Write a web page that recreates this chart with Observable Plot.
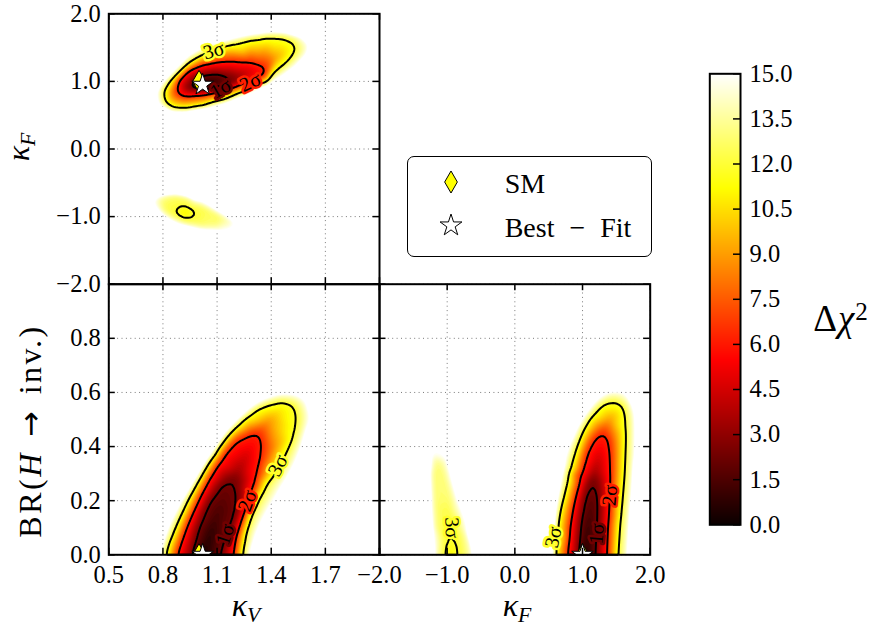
<!DOCTYPE html>
<html><head><meta charset="utf-8">
<script src="https://cdn.jsdelivr.net/npm/d3@7"></script>
<script src="https://cdn.jsdelivr.net/npm/@observablehq/plot@0.6"></script>
<style>
body{margin:0;background:#fff;}
#chart{position:relative;width:875px;height:627px;overflow:hidden;font-family:"Liberation Serif",serif;color:#000;}
#chart svg{position:absolute;left:0;top:0;}
.lbl{position:absolute;white-space:nowrap;line-height:1;}
.sb{font-size:0.68em;font-style:italic;position:relative;top:0.26em;}
.sp{font-size:0.68em;position:relative;top:-0.45em;}
</style></head><body><div id="chart"></div>
<script>
// ---------------- data ----------------
// Δχ² levels of the labelled contours (2 d.o.f.)
const sigmaLevels = [2.30, 6.18, 11.83];
const sigmaNames = ["1σ", "2σ", "3σ"];
const edgeLevel = 15;      // top of colour scale (fade-out edge)
const farLevel = 40;       // background samples

// axis ticks
const kvTicks = [0.5, 0.8, 1.1, 1.4, 1.7, 2.0];
const kvTickLabels = [0.5, 0.8, 1.1, 1.4, 1.7];
const kfTicks = [-2, -1, 0, 1, 2];
const brTicks = [0, 0.2, 0.4, 0.6, 0.8, 1.0];
const brTickLabels = [0, 0.2, 0.4, 0.6, 0.8];
const cbTicks = [0, 1.5, 3, 4.5, 6, 7.5, 9, 10.5, 12, 13.5, 15];

// markers
const smP1 = [[1, 1]], bestP1 = [[1.02, 0.95]];
const smP2 = [[1, 0]], bestP2 = [[1.02, 0]];
const smP3 = [[1, 0]], bestP3 = [[1.0, 0]];

// ---- panel 1 (κV, κF) main island: [x, y, Δχ²] inner samples + contour rings ----
const p1MainCore = [[1.02,0.95,0.0],[1.09,1.0,0.6],[1.27,1.12,4.0],[1.33,1.16,5.3],[1.43,1.35,9.0],[1.49,1.46,10.6],[1.25,1.42,9.5],[0.90,0.95,4.5]];
const p1MainS1 = [[0.948,0.89],[0.955,0.96],[0.97,1.02],[1.0,1.07],[1.05,1.10],[1.10,1.11],[1.16,1.08],[1.20,1.03],[1.19,0.97],[1.14,0.92],[1.07,0.88],[1.0,0.86]];
const p1MainS2 = [[0.874,0.87],[0.892,1.04],[0.933,1.153],[1.007,1.237],[1.099,1.286],[1.191,1.30],[1.284,1.286],[1.348,1.237],[1.376,1.15],[1.37,1.07],[1.31,1.01],[1.25,0.96],[1.17,0.89],[1.08,0.83],[1.0,0.79],[0.93,0.77],[0.89,0.80]];
const p1MainS3 = [[1.08,1.458],[1.182,1.547],[1.283,1.616],[1.394,1.656],[1.468,1.646],[1.523,1.582],[1.538,1.483],[1.514,1.36],[1.468,1.237],[1.40,1.10],[1.32,0.96],[1.228,0.84],[1.136,0.73],[1.025,0.64],[0.914,0.594],[0.859,0.605],[0.813,0.69],[0.804,0.842],[0.831,0.965],[0.877,1.089],[0.924,1.212],[0.970,1.311],[1.02,1.39]];
const p1MainEdge = [[0.99,1.47],[1.06,1.56],[1.18,1.635],[1.29,1.70],[1.40,1.74],[1.49,1.73],[1.57,1.67],[1.615,1.55],[1.60,1.40],[1.545,1.25],[1.47,1.10],[1.38,0.95],[1.28,0.82],[1.17,0.70],[1.04,0.595],[0.92,0.54],[0.835,0.55],[0.78,0.65],[0.765,0.84],[0.795,0.98],[0.845,1.12],[0.895,1.26],[0.935,1.38]];
// ---- panel 1 secondary island ----
const p1SmallCore = [[0.925, -0.94, 10.4]];
const p1SmallS3 = [[0.867,-0.926],[0.885,-0.872],[0.915,-0.852],[0.949,-0.877],[0.975,-0.93],[0.982,-0.975],[0.949,-1.03],[0.905,-1.02],[0.875,-0.985]];
const p1SmallMid = [[0.80,-0.76],[0.86,-0.71],[0.93,-0.74],[1.00,-0.82],[1.07,-0.92],[1.12,-1.02],[1.10,-1.10],[1.02,-1.12],[0.93,-1.08],[0.85,-1.00],[0.80,-0.90]];
const p1SmallMidLevel = 12.6;
const p1SmallEdge = [[0.75,-0.73],[0.80,-0.66],[0.87,-0.64],[0.94,-0.68],[1.00,-0.76],[1.07,-0.86],[1.14,-0.96],[1.21,-1.08],[1.19,-1.18],[1.12,-1.23],[1.01,-1.21],[0.90,-1.13],[0.82,-1.01],[0.77,-0.90],[0.74,-0.80]];
const p1Far = [[0.3,2.3],[1.25,2.3],[2.2,2.3],[2.2,1],[2.2,0],[2.2,-1],[2.2,-2.3],[1.25,-2.3],[0.3,-2.3],[0.3,-1],[0.3,0],[0.3,1],[1.2,0.1],[0.85,0.15],[1.6,0.3],[1.5,-0.5],[1.6,-1.5],[0.6,-1.6],[0.6,-0.35],[0.6,1.3],[1.7,1.9],[1.85,1.2],[0.9,1.9],[1.0,-1.6],[1.3,-0.6],[0.9,-0.4]];

// ---- panel 2 (κV, BR) ----
const p2Core = [[1.02,0.0,0.0],[1.06,0.07,0.5],[1.10,0.15,1.2],[1.14,0.22,1.8],[1.22,0.31,3.3],[1.26,0.36,4.3],[1.30,0.41,5.4],[1.38,0.49,8.5],[1.44,0.53,10.3],[1.42,0.40,8.6],[1.33,0.25,8.0]];
const p2S1 = [[0.961,0.0],[0.975,0.04],[0.989,0.078],[1.01,0.12],[1.035,0.164],[1.06,0.20],[1.091,0.226],[1.12,0.255],[1.146,0.269],[1.175,0.277],[1.193,0.275],[1.21,0.262],[1.215,0.235],[1.215,0.189],[1.195,0.13],[1.165,0.075],[1.14,0.035],[1.125,0.0]];
const p2S2 = [[0.878,0.0],[0.90,0.045],[0.924,0.09],[0.955,0.14],[0.989,0.189],[1.025,0.24],[1.063,0.288],[1.11,0.34],[1.156,0.386],[1.20,0.418],[1.248,0.436],[1.285,0.446],[1.313,0.448],[1.341,0.436],[1.35,0.40],[1.341,0.349],[1.32,0.29],[1.29,0.23],[1.262,0.17],[1.235,0.12],[1.212,0.07],[1.195,0.0]];
const p2S3 = [[0.819,0.0],[0.835,0.04],[0.859,0.078],[0.885,0.12],[0.915,0.164],[0.95,0.215],[0.989,0.263],[1.025,0.305],[1.063,0.349],[1.11,0.395],[1.156,0.436],[1.21,0.475],[1.267,0.51],[1.32,0.537],[1.378,0.553],[1.43,0.562],[1.47,0.565],[1.505,0.558],[1.526,0.547],[1.54,0.525],[1.544,0.498],[1.538,0.47],[1.526,0.442],[1.50,0.40],[1.465,0.35],[1.42,0.30],[1.369,0.257],[1.345,0.225],[1.322,0.195],[1.30,0.165],[1.285,0.14],[1.27,0.11],[1.257,0.078],[1.248,0.04],[1.239,0.0]];
const p2Edge = [[0.78,0.0],[0.795,0.04],[0.82,0.09],[0.855,0.14],[0.895,0.19],[0.95,0.25],[1.015,0.32],[1.085,0.39],[1.15,0.455],[1.22,0.505],[1.285,0.545],[1.35,0.573],[1.415,0.59],[1.47,0.598],[1.526,0.596],[1.57,0.584],[1.60,0.562],[1.615,0.52],[1.61,0.485],[1.59,0.44],[1.565,0.386],[1.53,0.33],[1.485,0.275],[1.435,0.22],[1.38,0.16],[1.34,0.11],[1.312,0.065],[1.295,0.03],[1.285,0.0]];
const p2Far = [[0.3,-0.25],[1.0,-0.25],[1.6,-0.25],[2.2,-0.25],[2.2,0.5],[2.2,1.2],[1.25,1.2],[0.3,1.2],[0.3,0.5],[0.6,0.0],[1.55,0.0],[1.7,0.25],[0.65,0.25],[0.9,0.6],[1.2,0.8],[1.8,0.75],[1.95,0.05]];

// ---- panel 3 (κF, BR) main island ----
const p3Core = [[1.03,0.0,0.0],[1.05,0.04,0.3],[1.07,0.08,0.6],[1.095,0.125,0.95],[1.12,0.17,1.3],[1.15,0.215,1.7],[1.19,0.31,3.3],[1.24,0.36,4.3],[1.29,0.41,5.4],[1.40,0.50,8.8],[1.50,0.52,10.0],[1.52,0.35,9.0],[1.49,0.15,9.0],[0.72,0.06,9.5],[0.86,0.30,8.6]];
const p3S1 = [[0.951,0.0],[0.956,0.03],[0.962,0.06],[0.968,0.088],[0.975,0.115],[0.986,0.138],[1.0,0.16],[1.012,0.18],[1.025,0.2],[1.042,0.218],[1.06,0.235],[1.08,0.25],[1.099,0.263],[1.117,0.27],[1.135,0.275],[1.155,0.277],[1.173,0.275],[1.19,0.271],[1.205,0.265],[1.215,0.256],[1.222,0.245],[1.228,0.23],[1.232,0.21],[1.236,0.19],[1.237,0.17],[1.234,0.14],[1.228,0.11],[1.221,0.085],[1.214,0.06],[1.207,0.03],[1.2,0.0]];
const p3S2 = [[0.778,0.0],[0.788,0.03],[0.80,0.06],[0.812,0.088],[0.827,0.115],[0.848,0.148],[0.87,0.18],[0.897,0.21],[0.926,0.238],[0.958,0.268],[0.99,0.30],[1.02,0.332],[1.049,0.362],[1.085,0.388],[1.12,0.41],[1.16,0.425],[1.197,0.436],[1.23,0.442],[1.26,0.446],[1.29,0.447],[1.32,0.446],[1.345,0.441],[1.368,0.434],[1.385,0.425],[1.40,0.412],[1.41,0.395],[1.416,0.374],[1.42,0.34],[1.42,0.30],[1.416,0.26],[1.41,0.22],[1.403,0.186],[1.394,0.152],[1.387,0.115],[1.38,0.08],[1.375,0.04],[1.37,0.0]];
const p3S3 = [[0.60,0.0],[0.61,0.035],[0.62,0.07],[0.635,0.105],[0.655,0.14],[0.68,0.17],[0.705,0.195],[0.729,0.214],[0.755,0.24],[0.78,0.265],[0.80,0.29],[0.827,0.312],[0.855,0.34],[0.89,0.37],[0.92,0.395],[0.951,0.417],[0.985,0.44],[1.02,0.46],[1.06,0.48],[1.099,0.498],[1.15,0.515],[1.20,0.53],[1.25,0.543],[1.296,0.553],[1.34,0.559],[1.38,0.563],[1.425,0.565],[1.468,0.565],[1.505,0.562],[1.54,0.558],[1.57,0.553],[1.592,0.547],[1.61,0.535],[1.625,0.52],[1.636,0.503],[1.641,0.485],[1.642,0.46],[1.64,0.43],[1.636,0.40],[1.631,0.374],[1.626,0.34],[1.62,0.31],[1.611,0.28],[1.601,0.251],[1.59,0.22],[1.58,0.19],[1.566,0.158],[1.552,0.127],[1.543,0.095],[1.535,0.065],[1.526,0.032],[1.518,0.0]];
const p3Edge = [[0.55,0.0],[0.557,0.035],[0.565,0.07],[0.575,0.105],[0.585,0.14],[0.60,0.175],[0.62,0.21],[0.645,0.245],[0.67,0.28],[0.705,0.318],[0.74,0.355],[0.78,0.385],[0.82,0.415],[0.87,0.443],[0.92,0.47],[0.98,0.495],[1.04,0.52],[1.10,0.54],[1.16,0.56],[1.215,0.575],[1.271,0.587],[1.335,0.597],[1.40,0.603],[1.46,0.606],[1.518,0.605],[1.575,0.602],[1.63,0.597],[1.675,0.588],[1.71,0.575],[1.745,0.555],[1.77,0.535],[1.785,0.51],[1.79,0.485],[1.792,0.44],[1.79,0.40],[1.785,0.355],[1.775,0.312],[1.765,0.27],[1.755,0.23],[1.742,0.197],[1.73,0.164],[1.717,0.12],[1.705,0.08],[1.695,0.04],[1.685,0.0]];
// ---- panel 3 secondary island ----
const p3LeftCore = [[-0.94, 0.0, 10.9]];
const p3LeftS3 = [[-1.025,0.0],[-1.025,0.05],[-1.01,0.10],[-0.96,0.13],[-0.90,0.11],[-0.865,0.05],[-0.855,0.0]];
const p3LeftMid = [[-1.12,0.0],[-1.15,0.1],[-1.18,0.2],[-1.20,0.3],[-1.15,0.34],[-1.06,0.30],[-0.97,0.22],[-0.86,0.14],[-0.76,0.06],[-0.72,0.0]];
const p3LeftMidLevel = 12.8;
const p3LeftEdge = [[-1.20,0.0],[-1.23,0.1],[-1.25,0.2],[-1.27,0.3],[-1.25,0.38],[-1.18,0.42],[-1.08,0.41],[-1.0,0.36],[-0.92,0.28],[-0.82,0.19],[-0.70,0.10],[-0.62,0.03],[-0.60,0.0]];
const p3Far = [[-2.3,-0.25],[-1,-0.25],[0,-0.25],[1,-0.25],[2.3,-0.25],[2.3,0.5],[2.3,1.2],[1,1.2],[0,1.2],[-1,1.2],[-2.3,1.2],[-2.3,0.5],[-1.6,0],[-0.3,0],[0.2,0],[1.95,0],[-0.2,0.4],[-1.6,0.3],[-0.5,0.4],[-1.0,0.7],[0.4,0.6],[1.0,0.8],[1.95,0.25],[0.3,0.25],[-1.7,0.8],[1.8,0.9]];

// contour labels: [level index, x, y]
const p1LabelPos = [[2, 1.081, 1.456], [1, 1.284, 0.99], [0, 1.12, 0.895]];
const p1LabelRot = [-15, -25, -30];
const p2LabelPos = [[2, 1.437, 0.33], [1, 1.268, 0.20], [0, 1.145, 0.075]];
const p2LabelRot = [-62, -70, -72];
const p3LabelPos = [[2, -0.93, 0.10], [2, 0.57, 0.065], [1, 1.404, 0.22], [0, 1.21, 0.078]];
const p3LabelRot = [88, -78, -85, -85];

// ---------------- helpers ----------------
const fmt = d3.format(".1f");
function hot(t) {
  t = Math.max(0, Math.min(1, t));
  const a = 0.365079, b = 0.746032;
  const r = t < a ? 0.0416 + (1 - 0.0416) * t / a : 1;
  const g = t < a ? 0 : t < b ? (t - a) / (b - a) : 1;
  const bl = t < b ? 0 : (t - b) / (1 - b);
  return `rgb(${Math.round(r * 255)},${Math.round(g * 255)},${Math.round(bl * 255)})`;
}
const ring = (pts, chi) => pts.map(([x, y]) => ({x, y, nv: -chi}));
const core = (pts) => pts.map(([x, y, c]) => ({x, y, nv: -c}));
const fillThresholds = d3.range(-14.8, -0.05, 0.2);
const lineThresholds = sigmaLevels.map(v => -v).reverse();
const gridStyle = {stroke: "#7a7a7a", strokeOpacity: 1, strokeWidth: 1, strokeDasharray: "1,3.4"};
const FW = 875, FH = 627;
const svgStyle = {background: "transparent", fontFamily: "'Liberation Serif', serif", fontSize: "24.5px", overflow: "visible"};

function panel({frame, xDomain, yDomain, xTicks, yTicks, xLabels, yLabels, samples, labelPos, labelRot, sm, best}) {
  const [L, T, W, H] = frame;
  const labels = labelPos.map(([k, x, y], i) => ({k, x, y, r: labelRot[i], t: sigmaNames[k]}));
  const marks = [
    Plot.gridX(xTicks, gridStyle),
    Plot.gridY(yTicks, gridStyle),
    Plot.contour(samples, {x: "x", y: "y", fill: "nv", thresholds: fillThresholds, interpolate: "barycentric", blur: 1, stroke: "none"}),
    Plot.contour(samples, {x: "x", y: "y", value: "nv", thresholds: lineThresholds, interpolate: "barycentric", blur: 1, stroke: "black", strokeWidth: 2, fill: "none"})
  ];
  sigmaLevels.forEach((lvl, k) => {
    marks.push(Plot.text(labels.filter(d => d.k === k), {x: "x", y: "y", text: "t", rotate: "r", fontSize: 20,
      fill: "black", stroke: hot(lvl / 15), strokeWidth: 5, paintOrder: "stroke"}));
  });
  marks.push(
    Plot.dot(sm, {x: d => d[0], y: d => d[1], symbol: "diamond", r: 6.7, fill: "#ffff00", stroke: "black", strokeWidth: 1, clip: true}),
    Plot.dot(best, {x: d => d[0], y: d => d[1], symbol: "star", r: 6.8, fill: "white", stroke: "black", strokeWidth: 1, clip: true}),
    Plot.tickY(yTicks, {y: d => d, insetRight: W - 6.5, stroke: "black", strokeWidth: 1.5}),
    Plot.tickY(yTicks, {y: d => d, insetLeft: W - 6.5, stroke: "black", strokeWidth: 1.5}),
    Plot.tickX(xTicks, {x: d => d, insetTop: H - 6.5, stroke: "black", strokeWidth: 1.5}),
    Plot.tickX(xTicks, {x: d => d, insetBottom: H - 6.5, stroke: "black", strokeWidth: 1.5}),
    Plot.frame({stroke: "black", strokeWidth: 2})
  );
  if (xLabels) marks.push(Plot.axisX(xLabels, {anchor: "bottom", tickSize: 0, tickPadding: 11, tickFormat: fmt, label: null}));
  if (yLabels) marks.push(Plot.axisY(yLabels, {anchor: "left", tickSize: 0, tickPadding: 8, tickFormat: fmt, label: null}));
  return Plot.plot({
    width: FW, height: FH,
    marginLeft: L, marginTop: T, marginRight: FW - L - W, marginBottom: FH - T - H,
    x: {domain: xDomain, axis: null}, y: {domain: yDomain, axis: null},
    color: {type: "linear", domain: [-15, 0], interpolate: t => hot(1 - t)},
    style: svgStyle,
    marks
  });
}

// ---------------- build ----------------
const chart = document.getElementById("chart");

const s1 = [].concat(
  core(p1MainCore), ring(p1MainS1, sigmaLevels[0]), ring(p1MainS2, sigmaLevels[1]), ring(p1MainS3, sigmaLevels[2]), ring(p1MainEdge, edgeLevel),
  core(p1SmallCore), ring(p1SmallS3, sigmaLevels[2]), ring(p1SmallMid, p1SmallMidLevel), ring(p1SmallEdge, edgeLevel),
  ring(p1Far, farLevel));
const s2 = [].concat(
  core(p2Core), ring(p2S1, sigmaLevels[0]), ring(p2S2, sigmaLevels[1]), ring(p2S3, sigmaLevels[2]), ring(p2Edge, edgeLevel), ring(p2Far, farLevel));
const s3 = [].concat(
  core(p3Core), ring(p3S1, sigmaLevels[0]), ring(p3S2, sigmaLevels[1]), ring(p3S3, sigmaLevels[2]), ring(p3Edge, edgeLevel),
  core(p3LeftCore), ring(p3LeftS3, sigmaLevels[2]), ring(p3LeftMid, p3LeftMidLevel), ring(p3LeftEdge, edgeLevel),
  ring(p3Far, farLevel));

chart.append(panel({frame: [108.3, 13.3, 270.7, 270.4], xDomain: [0.5, 2.0], yDomain: [-2, 2],
  xTicks: kvTicks, yTicks: kfTicks, xLabels: null, yLabels: kfTicks, samples: s1,
  labelPos: p1LabelPos, labelRot: p1LabelRot, sm: smP1, best: bestP1}));
chart.append(panel({frame: [108.3, 283.7, 270.7, 270.6], xDomain: [0.5, 2.0], yDomain: [0, 1],
  xTicks: kvTicks, yTicks: brTicks, xLabels: kvTickLabels, yLabels: brTickLabels, samples: s2,
  labelPos: p2LabelPos, labelRot: p2LabelRot, sm: smP2, best: bestP2}));
chart.append(panel({frame: [379, 283.7, 270.7, 270.6], xDomain: [-2, 2], yDomain: [0, 1],
  xTicks: kfTicks, yTicks: brTicks, xLabels: kfTicks, yLabels: null, samples: s3,
  labelPos: p3LabelPos, labelRot: p3LabelRot, sm: smP3, best: bestP3}));

// colour bar
{
  const L = 709.3, T = 73.3, W = 30.7, H = 451;
  chart.append(Plot.plot({
    width: FW, height: FH,
    marginLeft: L, marginTop: T, marginRight: FW - L - W, marginBottom: FH - T - H,
    x: {domain: [0, 1], axis: null}, y: {domain: [0, 15], axis: null},
    color: {type: "linear", domain: [0, 15], interpolate: hot},
    style: svgStyle,
    marks: [
      Plot.raster({x1: 0, x2: 1, y1: 0, y2: 15, fill: (x, y) => y, pixelSize: 1}),
      Plot.tickY(cbTicks, {y: d => d, insetLeft: W - 7, stroke: "black", strokeWidth: 1.5}),
      Plot.axisY(cbTicks, {anchor: "right", tickSize: 0, tickPadding: 9, tickFormat: fmt, label: null}),
      Plot.frame({stroke: "black", strokeWidth: 2})
    ]
  }));
}

// axis titles (HTML text)
function label(html, cx, cy, size, rot, extra) {
  const d = document.createElement("div");
  d.className = "lbl";
  d.innerHTML = html;
  d.style.left = cx + "px"; d.style.top = cy + "px"; d.style.fontSize = size + "px";
  d.style.transform = `translate(-50%,-50%)${rot ? ` rotate(${rot}deg)` : ""}`;
  if (extra) Object.assign(d.style, extra);
  chart.append(d);
}
label('<i>κ</i><span class="sb">F</span>', 17.5, 147, 32, -90);
label('BR(<i>H</i> <span style="font-family:\'DejaVu Sans\';font-size:0.95em">→</span> inv.)', 30, 431, 32, -90, {letterSpacing: "2.5px", wordSpacing: "4px"});
label('<i>κ</i><span class="sb">V</span>', 246, 605, 32, 0);
label('<i>κ</i><span class="sb">F</span>', 517, 605, 32, 0);
label('Δ<i>χ</i><span class="sp">2</span>', 841, 318, 37, 0, {letterSpacing: "1px"});

// legend
{
  const box = document.createElement("div");
  Object.assign(box.style, {position: "absolute", left: "406.7px", top: "155.7px", width: "245.6px", height: "101px",
    border: "1.6px solid #000", borderRadius: "7px", boxSizing: "border-box", background: "#fff"});
  chart.append(box);
  const ns = "http://www.w3.org/2000/svg";
  const sv = document.createElementNS(ns, "svg");
  sv.setAttribute("width", 245); sv.setAttribute("height", 101);
  sv.style.position = "absolute"; sv.style.left = "-1.6px"; sv.style.top = "-1.6px"; sv.style.overflow = "visible";
  const entries = [
    {name: "SM", sym: d3.symbolDiamond, size: 140, fill: "#ffff00"},
    {name: "Best − Fit", sym: d3.symbolStar, size: 148, fill: "#ffffff"}
  ];
  entries.forEach((e, i) => {
    const p = document.createElementNS(ns, "path");
    p.setAttribute("d", d3.symbol(e.sym, e.size)());
    p.setAttribute("transform", `translate(45,${27 + i * 43.5})`);
    p.setAttribute("fill", e.fill); p.setAttribute("stroke", "#000"); p.setAttribute("stroke-width", 1);
    sv.append(p);
    const t = document.createElement("div");
    t.className = "lbl";
    t.textContent = e.name;
    Object.assign(t.style, {left: "97px", top: (27.5 + i * 43.5) + "px", fontSize: "28px", transform: "translateY(-50%)", wordSpacing: "8px"});
    box.append(t);
  });
  box.append(sv);
}
</script></body></html>
